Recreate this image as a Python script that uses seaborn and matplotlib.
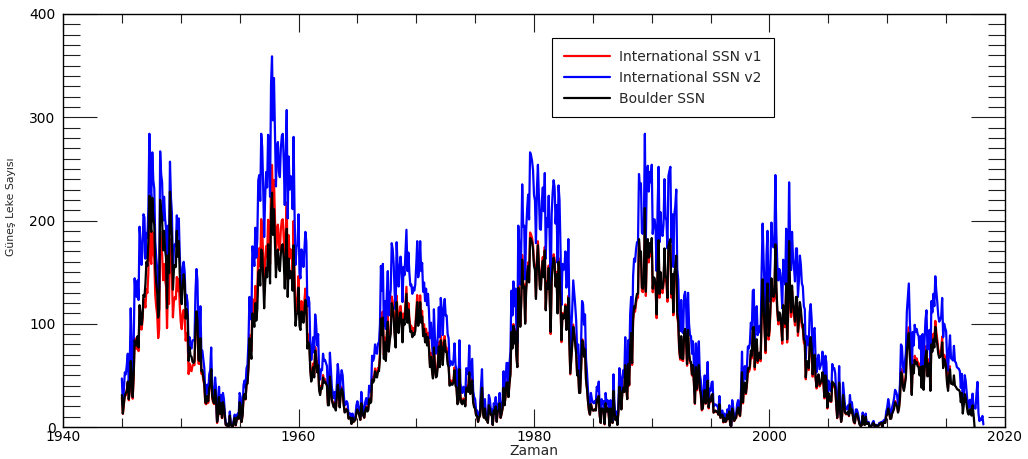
import numpy as np
import pandas as pd
import matplotlib
matplotlib.use("Agg")
import matplotlib.pyplot as plt
from matplotlib.ticker import MultipleLocator
import seaborn as sns

# Monthly sunspot numbers, one row per year, all series starting January 1945
start_year = 1945

labels = ["International SSN v1", "International SSN v2", "Boulder SSN"]
colors = ["#ff0000", "#0000ff", "#000000"]

ssn_v1 = [
    [28.0, 12.7, 21.5, 32.0, 30.6, 36.2, 42.6, 25.9, 34.9, 68.8, 46.0, 27.4],  # 1945
    [47.6, 86.2, 76.6, 75.7, 84.9, 73.5, 116.2, 107.2, 94.4, 102.3, 123.8, 121.7],
    [115.7, 133.4, 129.8, 149.8, 201.3, 163.9, 157.9, 188.8, 169.4, 163.6, 128.0, 116.5],
    [108.5, 86.1, 94.8, 189.7, 174.0, 167.8, 142.2, 157.9, 143.3, 136.3, 95.8, 138.0],
    [119.1, 182.3, 157.5, 147.0, 106.2, 121.7, 125.8, 123.8, 145.3, 131.6, 143.5, 117.6],
    [101.6, 94.8, 109.7, 113.4, 106.2, 83.6, 91.0, 85.2, 51.3, 61.4, 54.8, 54.1],  # 1950
    [59.9, 59.9, 59.9, 92.9, 108.5, 100.6, 61.5, 61.0, 83.1, 51.6, 52.4, 45.8],
    [40.7, 22.7, 22.0, 29.1, 23.4, 36.4, 39.3, 54.9, 28.2, 23.8, 22.1, 34.3],
    [26.5, 3.9, 10.0, 27.8, 12.5, 21.8, 8.6, 23.5, 19.3, 8.2, 1.6, 2.5],
    [0.2, 0.5, 10.9, 1.8, 0.8, 0.2, 4.8, 8.4, 1.5, 7.0, 9.2, 7.6],
    [23.1, 20.8, 4.9, 11.3, 28.9, 31.7, 26.7, 40.7, 42.7, 58.5, 89.2, 76.9],  # 1955
    [73.6, 124.0, 118.4, 110.7, 136.6, 116.6, 129.1, 169.6, 173.2, 155.3, 201.3, 192.1],
    [165.0, 130.2, 157.4, 175.2, 164.6, 200.7, 187.2, 158.0, 235.8, 253.8, 210.9, 239.4],
    [202.5, 164.9, 190.7, 196.0, 175.3, 171.5, 191.4, 200.2, 201.2, 181.5, 152.3, 187.6],
    [217.4, 143.1, 185.7, 163.3, 172.0, 168.7, 149.6, 199.6, 145.2, 111.4, 124.0, 125.0],
    [146.3, 106.0, 102.2, 122.0, 119.6, 110.2, 121.7, 134.1, 127.2, 82.8, 89.6, 85.6],  # 1960
    [57.9, 46.1, 53.0, 61.4, 51.0, 77.4, 70.2, 55.8, 63.6, 37.7, 32.6, 39.9],
    [38.7, 50.3, 45.6, 46.4, 43.7, 42.0, 21.8, 21.8, 51.3, 39.5, 26.9, 23.2],
    [19.8, 24.4, 17.1, 29.3, 43.0, 35.9, 19.6, 33.2, 38.8, 35.3, 23.4, 14.9],
    [15.3, 17.7, 16.5, 8.6, 9.5, 9.1, 3.1, 9.3, 4.7, 6.1, 7.4, 15.1],
    [17.5, 14.2, 11.7, 6.8, 24.1, 15.9, 11.9, 8.9, 16.8, 20.1, 15.8, 17.0],  # 1965
    [28.2, 24.4, 25.3, 48.7, 45.3, 47.7, 56.7, 51.2, 50.2, 57.2, 57.2, 70.4],
    [110.9, 93.6, 111.8, 69.5, 86.5, 67.3, 91.5, 107.2, 76.8, 88.2, 94.3, 126.4],
    [121.8, 111.9, 92.2, 81.2, 127.2, 110.3, 96.1, 109.3, 117.2, 107.7, 86.0, 109.8],
    [104.4, 120.5, 135.8, 106.8, 120.0, 106.0, 96.8, 98.0, 91.3, 95.7, 93.5, 97.9],
    [111.5, 127.8, 102.9, 109.5, 127.5, 106.8, 112.5, 93.0, 99.5, 86.6, 95.2, 83.5],  # 1970
    [91.3, 79.0, 60.7, 71.8, 57.5, 49.8, 81.0, 61.4, 50.2, 51.7, 63.2, 82.2],
    [61.5, 88.4, 80.1, 63.2, 80.5, 88.0, 76.5, 76.8, 64.0, 61.3, 41.6, 45.3],
    [43.4, 42.9, 46.0, 57.7, 42.4, 39.5, 23.1, 25.6, 59.3, 30.7, 23.9, 23.3],
    [27.6, 26.0, 21.3, 40.3, 39.5, 36.0, 55.8, 33.6, 40.2, 47.1, 25.0, 20.5],
    [18.9, 11.5, 11.5, 5.1, 9.0, 11.4, 28.2, 39.7, 13.9, 9.1, 19.4, 7.8],  # 1975
    [8.1, 4.3, 21.9, 18.8, 12.4, 12.2, 1.9, 16.4, 13.5, 20.6, 5.2, 15.3],
    [16.4, 23.1, 8.7, 12.9, 18.6, 38.5, 21.4, 30.1, 44.0, 43.8, 29.1, 43.2],
    [51.9, 93.6, 76.5, 99.7, 82.7, 95.1, 70.4, 58.1, 138.2, 125.1, 97.9, 122.7],
    [166.6, 137.5, 138.0, 101.5, 134.4, 149.5, 159.4, 142.2, 188.4, 186.2, 183.3, 176.3],
    [159.6, 155.0, 126.2, 164.1, 179.9, 157.3, 136.3, 135.4, 155.0, 164.7, 147.9, 174.4],  # 1980
    [114.0, 141.3, 135.5, 156.4, 127.5, 90.0, 143.8, 158.7, 167.3, 162.4, 137.5, 150.1],
    [111.2, 163.6, 153.8, 122.0, 82.2, 110.4, 106.1, 107.6, 118.8, 94.7, 98.1, 127.0],
    [84.3, 51.0, 66.5, 80.7, 99.2, 91.1, 82.2, 71.8, 50.3, 55.8, 33.3, 33.4],
    [57.0, 85.1, 83.5, 69.4, 76.4, 46.1, 37.4, 25.5, 15.7, 12.0, 22.8, 18.7],
    [16.5, 15.9, 17.2, 16.2, 27.5, 24.2, 30.7, 11.1, 3.9, 18.6, 16.2, 17.3],  # 1985
    [2.5, 23.2, 15.1, 18.5, 13.7, 1.1, 18.1, 7.4, 3.8, 35.4, 15.2, 6.8],
    [10.4, 2.4, 14.7, 39.6, 33.0, 17.4, 33.0, 38.7, 33.9, 60.6, 39.9, 27.1],
    [59.0, 40.0, 76.2, 88.0, 60.1, 101.8, 113.8, 111.6, 120.1, 125.1, 125.1, 179.2],
    [161.3, 165.1, 131.4, 130.6, 138.5, 196.2, 126.9, 168.9, 176.7, 159.4, 173.0, 165.5],
    [177.3, 130.5, 140.3, 140.3, 132.2, 105.4, 149.4, 176.0, 125.2, 145.5, 131.4, 129.7],  # 1990
    [136.9, 167.5, 141.9, 140.0, 121.3, 169.7, 173.7, 176.3, 125.3, 144.1, 108.2, 144.4],
    [150.0, 161.1, 106.7, 99.8, 73.8, 65.2, 85.7, 64.5, 63.9, 88.7, 91.8, 82.6],
    [59.3, 91.0, 69.8, 62.2, 61.3, 49.8, 57.9, 42.2, 22.4, 56.4, 35.6, 48.9],
    [57.8, 35.5, 31.7, 16.1, 17.8, 28.0, 35.1, 22.5, 25.7, 44.0, 18.0, 26.2],
    [24.2, 29.9, 31.1, 14.0, 14.5, 15.6, 14.5, 14.3, 11.8, 21.1, 9.0, 10.0],  # 1995
    [11.5, 4.4, 9.2, 4.8, 5.5, 11.8, 8.2, 14.4, 1.6, 0.9, 17.9, 13.3],
    [5.7, 7.6, 8.7, 15.5, 18.5, 12.7, 10.4, 24.4, 51.3, 22.8, 39.0, 41.2],
    [31.9, 40.3, 54.8, 53.4, 56.3, 70.7, 66.6, 92.2, 92.9, 55.5, 74.0, 81.9],
    [62.0, 66.3, 68.8, 63.7, 106.4, 137.7, 113.5, 93.7, 71.5, 116.7, 133.2, 84.6],
    [90.1, 112.9, 138.5, 125.5, 121.6, 124.9, 170.1, 130.5, 109.7, 99.4, 106.8, 104.4],  # 2000
    [95.6, 80.6, 113.5, 107.7, 96.6, 134.0, 81.8, 106.4, 150.7, 125.5, 106.5, 132.2],
    [114.1, 107.4, 98.4, 120.7, 120.8, 88.3, 99.6, 116.4, 109.6, 97.5, 95.0, 81.6],
    [79.5, 46.2, 61.5, 60.0, 55.2, 77.4, 83.3, 72.7, 48.7, 65.5, 67.3, 46.5],
    [37.3, 45.8, 49.1, 39.3, 41.5, 43.2, 51.1, 40.9, 27.7, 48.0, 43.5, 17.9],
    [31.3, 29.2, 24.5, 24.4, 42.7, 39.3, 40.1, 36.4, 22.1, 8.5, 18.0, 41.2],  # 2005
    [15.3, 4.9, 10.6, 30.2, 22.3, 13.9, 12.2, 12.9, 14.4, 10.5, 21.4, 13.6],
    [16.8, 10.7, 4.5, 3.4, 11.7, 12.1, 9.7, 6.0, 2.4, 0.9, 1.7, 10.1],
    [3.3, 2.1, 9.3, 2.9, 3.2, 3.4, 0.5, 0.5, 1.1, 2.9, 4.1, 0.8],
    [1.5, 1.4, 0.7, 1.2, 2.9, 2.6, 3.5, 0.0, 4.3, 4.8, 4.1, 10.8],
    [13.2, 18.8, 15.4, 8.0, 8.7, 13.6, 16.1, 19.6, 25.2, 23.5, 21.6, 14.5],  # 2010
    [19.0, 29.4, 56.2, 54.4, 41.6, 37.0, 43.9, 50.6, 78.0, 88.0, 96.7, 73.0],
    [58.3, 33.1, 64.2, 55.2, 69.0, 64.5, 66.5, 63.0, 61.4, 53.3, 61.8, 40.8],
    [62.9, 38.1, 57.9, 72.4, 78.7, 52.5, 57.0, 66.0, 37.0, 85.6, 77.6, 90.3],
    [82.0, 102.8, 92.2, 84.7, 75.2, 71.0, 72.4, 74.6, 87.6, 60.6, 70.0, 67.3],
    [62.0, 44.0, 38.0, 54.4, 58.8],  # 2015
]

ssn_v2 = [
    [47, 21, 36, 53, 51, 60, 71, 43, 58, 115, 77, 46],  # 1945
    [79, 144, 128, 126, 142, 123, 194, 179, 157, 171, 206, 203],
    [163, 188, 183, 211, 284, 231, 223, 266, 239, 231, 180, 164],
    [153, 121, 134, 267, 245, 237, 200, 223, 202, 192, 135, 195],
    [168, 257, 222, 207, 150, 172, 177, 175, 205, 186, 202, 166],
    [143, 134, 155, 160, 150, 118, 128, 120, 72, 87, 77, 76],  # 1950
    [84, 84, 84, 131, 153, 142, 87, 86, 117, 73, 74, 65],
    [57, 32, 31, 41, 33, 51, 55, 77, 40, 34, 31, 48],
    [37, 5.5, 14, 39, 18, 31, 12, 33, 27, 12, 2.3, 3.5],
    [0.3, 0.7, 15, 2.5, 1.1, 0.3, 6.8, 12, 2.1, 10, 13, 11],
    [33, 29, 7, 16, 41, 45, 38, 57, 60, 82, 126, 108],  # 1955
    [104, 175, 167, 156, 193, 164, 182, 239, 244, 219, 284, 271],
    [233, 184, 222, 247, 232, 283, 264, 223, 332, 359, 297, 338],
    [286, 233, 269, 276, 247, 242, 270, 282, 284, 256, 215, 265],
    [307, 202, 262, 230, 243, 238, 211, 281, 205, 157, 175, 176],
    [206, 149, 144, 172, 169, 155, 172, 189, 179, 117, 126, 121],  # 1960
    [82, 65, 75, 87, 72, 109, 99, 79, 90, 53, 46, 56],
    [55, 71, 64, 65, 62, 59, 31, 31, 72, 56, 38, 33],
    [28, 34, 24, 41, 61, 51, 28, 47, 55, 50, 33, 21],
    [22, 25, 23, 12, 13, 13, 4.4, 13, 6.6, 8.6, 10, 21],
    [25, 20, 16, 9.6, 34, 22, 17, 13, 24, 28, 22, 24],  # 1965
    [40, 34, 36, 69, 64, 67, 80, 72, 71, 81, 81, 99],
    [156, 132, 158, 98, 122, 95, 129, 151, 108, 124, 133, 178],
    [172, 158, 130, 114, 179, 156, 136, 154, 165, 152, 121, 155],
    [147, 170, 191, 151, 169, 149, 137, 138, 129, 135, 132, 138],
    [157, 180, 145, 154, 180, 151, 159, 131, 140, 122, 134, 118],  # 1970
    [129, 111, 86, 101, 81, 70, 114, 87, 71, 73, 89, 116],
    [87, 125, 113, 89, 114, 124, 108, 108, 90, 86, 59, 64],
    [61, 60, 65, 81, 60, 56, 33, 36, 84, 43, 34, 33],
    [39, 37, 30, 57, 56, 51, 79, 47, 57, 66, 35, 29],
    [27, 16, 16, 7.2, 13, 16, 40, 56, 20, 13, 27, 11],  # 1975
    [11, 6.1, 31, 27, 17, 17, 2.7, 23, 19, 29, 7.3, 22],
    [23, 33, 12, 18, 26, 54, 30, 42, 62, 62, 41, 61],
    [73, 132, 108, 141, 117, 134, 99, 82, 195, 176, 138, 173],
    [235, 194, 195, 143, 190, 211, 225, 201, 266, 263, 258, 249],
    [225, 219, 178, 231, 254, 222, 192, 191, 219, 232, 209, 246],  # 1980
    [163, 202, 194, 224, 182, 129, 206, 227, 239, 232, 197, 215],
    [159, 234, 220, 174, 118, 158, 152, 154, 170, 135, 140, 182],
    [121, 73, 95, 115, 142, 130, 118, 103, 72, 80, 48, 48],
    [82, 122, 119, 99, 109, 66, 53, 36, 22, 17, 33, 27],
    [24, 23, 25, 23, 39, 35, 44, 16, 5.6, 27, 23, 25],  # 1985
    [3.6, 33, 22, 26, 20, 1.6, 26, 11, 5.4, 51, 22, 10],
    [15, 3.4, 21, 57, 47, 25, 47, 55, 48, 87, 57, 39],
    [84, 57, 109, 126, 86, 146, 163, 160, 172, 179, 179, 245],
    [231, 236, 188, 187, 198, 284, 181, 242, 253, 228, 247, 237],
    [254, 187, 201, 201, 189, 151, 214, 252, 179, 208, 188, 185],  # 1990
    [196, 240, 203, 200, 173, 243, 248, 252, 179, 206, 155, 206],
    [214, 230, 153, 143, 106, 93, 123, 92, 91, 127, 131, 118],
    [85, 130, 100, 89, 88, 71, 83, 60, 32, 81, 51, 70],
    [83, 51, 45, 23, 25, 40, 50, 32, 37, 63, 26, 37],
    [35, 43, 44, 20, 21, 22, 21, 20, 17, 30, 13, 14],  # 1995
    [16, 6.3, 13, 6.9, 7.9, 17, 12, 21, 2.3, 1.3, 26, 19],
    [8.2, 11, 12, 22, 26, 18, 15, 35, 73, 33, 56, 59],
    [46, 58, 78, 76, 81, 101, 95, 132, 133, 79, 106, 117],
    [89, 95, 98, 91, 152, 197, 162, 134, 102, 167, 190, 121],
    [129, 161, 198, 179, 174, 179, 244, 187, 157, 142, 153, 149],  # 2000
    [137, 115, 162, 154, 138, 192, 117, 152, 237, 180, 152, 189],
    [163, 154, 141, 173, 173, 126, 142, 166, 157, 139, 136, 117],
    [114, 66, 88, 86, 79, 111, 119, 104, 70, 94, 96, 66],
    [53, 65, 70, 56, 59, 62, 73, 58, 40, 69, 62, 26],
    [45, 42, 35, 35, 61, 56, 57, 52, 32, 12, 26, 59],  # 2005
    [22, 7, 15, 43, 32, 20, 17, 18, 21, 15, 31, 19],
    [24, 15, 6.4, 4.9, 17, 17, 14, 8.6, 3.4, 1.3, 2.4, 14],
    [4.7, 3, 13, 4.1, 4.6, 4.9, 0.7, 0.7, 1.6, 4.1, 5.9, 1.1],
    [2.1, 2, 1, 1.7, 4.1, 3.7, 5, 0, 6.1, 6.9, 5.9, 15],
    [19, 27, 22, 11, 12, 19, 23, 28, 36, 34, 31, 21],  # 2010
    [27, 42, 80, 78, 59, 53, 63, 72, 112, 126, 139, 104],
    [83, 47, 92, 79, 99, 92, 95, 90, 88, 76, 88, 58],
    [90, 54, 83, 104, 113, 75, 82, 94, 53, 122, 111, 129],
    [117, 146, 132, 121, 108, 102, 104, 107, 125, 87, 100, 96],
    [93.0, 66.7, 54.5, 75.3, 88.8, 66.5, 65.8, 64.4, 78.6, 63.6, 62.2, 58.0],  # 2015
    [57.0, 56.4, 54.1, 37.9, 51.5, 20.5, 32.4, 50.2, 44.6, 33.4, 21.4, 18.5],
    [26.1, 26.4, 17.7, 32.3, 18.9, 19.2, 17.8, 32.6, 43.7, 13.2, 5.7, 8.2],
    [6.8, 10.7, 2.5],  # 2018
]

ssn_boulder = [
    [31, 13, 23, 30, 33, 35, 44, 27, 36, 64, 48, 29],  # 1945
    [50, 84, 80, 79, 88, 77, 118, 110, 99, 106, 128, 126],
    [139, 160, 156, 180, 224, 197, 189, 222, 203, 196, 154, 140],
    [130, 106, 114, 220, 209, 201, 171, 190, 172, 164, 115, 166],
    [149, 228, 197, 184, 133, 152, 157, 155, 190, 165, 180, 147],
    [127, 119, 137, 148, 140, 105, 114, 107, 64, 77, 69, 68],  # 1950
    [63, 62, 64, 96, 112, 104, 65, 64, 86, 54, 55, 48],
    [42, 24, 23, 30, 25, 38, 41, 56, 30, 25, 23, 36],
    [28, 5, 11, 29, 13, 23, 9, 24, 20, 9, 2, 3],
    [0, 1, 11, 2, 1, 0, 5, 9, 2, 7, 10, 8],
    [24, 21, 5, 12, 29, 32, 27, 41, 42, 57, 86, 75],  # 1955
    [66, 110, 104, 97, 120, 103, 114, 150, 152, 137, 172, 169],
    [145, 115, 139, 154, 145, 177, 165, 139, 207, 227, 186, 211],
    [178, 145, 168, 172, 154, 151, 168, 176, 177, 160, 134, 165],
    [192, 126, 163, 144, 151, 148, 132, 176, 128, 98, 109, 110],
    [135, 98, 94, 112, 110, 101, 112, 123, 117, 76, 82, 79],  # 1960
    [55, 44, 50, 58, 48, 74, 67, 53, 60, 36, 31, 38],
    [37, 48, 43, 44, 42, 40, 21, 21, 49, 38, 26, 22],
    [19, 23, 16, 28, 41, 34, 19, 32, 37, 34, 22, 14],
    [15, 17, 16, 8, 9, 9, 3, 9, 5, 6, 7, 14],
    [17, 14, 11, 7, 23, 15, 11, 9, 16, 19, 15, 16],  # 1965
    [27, 23, 24, 46, 43, 45, 54, 49, 48, 54, 54, 67],
    [105, 89, 106, 66, 82, 64, 87, 102, 73, 84, 90, 120],
    [116, 106, 88, 77, 121, 105, 91, 104, 111, 102, 82, 104],
    [99, 114, 129, 101, 114, 101, 92, 93, 87, 91, 89, 93],
    [106, 121, 98, 104, 121, 101, 107, 88, 95, 82, 90, 79],  # 1970
    [87, 75, 58, 68, 55, 47, 77, 58, 48, 49, 60, 78],
    [58, 84, 76, 60, 76, 84, 73, 73, 61, 58, 40, 43],
    [41, 41, 44, 55, 40, 38, 22, 24, 56, 29, 23, 22],
    [26, 25, 20, 38, 38, 34, 53, 32, 38, 45, 24, 19],
    [18, 11, 11, 5, 9, 11, 27, 38, 13, 9, 18, 7],  # 1975
    [8, 4, 21, 18, 12, 12, 2, 16, 13, 20, 5, 15],
    [16, 23, 9, 13, 18, 38, 21, 30, 43, 43, 29, 42],
    [51, 92, 76, 98, 81, 93, 70, 58, 135, 123, 97, 120],
    [162, 135, 136, 100, 132, 146, 156, 140, 183, 182, 179, 172],
    [156, 152, 124, 160, 176, 154, 134, 133, 152, 161, 145, 171],  # 1980
    [113, 139, 134, 154, 126, 92, 141, 156, 164, 159, 136, 148],
    [110, 160, 151, 120, 84, 109, 105, 106, 117, 94, 97, 125],
    [83, 52, 66, 80, 97, 90, 81, 71, 50, 55, 33, 33],
    [56, 84, 82, 68, 75, 46, 37, 25, 16, 12, 22, 18],
    [16, 16, 17, 16, 27, 24, 30, 11, 4, 18, 16, 17],  # 1985
    [3, 23, 15, 18, 14, 1, 18, 7, 4, 35, 15, 7],
    [10, 2, 15, 39, 33, 17, 33, 38, 34, 60, 40, 27],
    [61, 41, 78, 91, 62, 105, 117, 115, 124, 129, 129, 182],
    [166, 170, 135, 134, 142, 212, 131, 174, 182, 164, 178, 170],
    [183, 134, 145, 144, 136, 109, 154, 181, 129, 150, 135, 134],  # 1990
    [141, 173, 146, 144, 125, 175, 179, 182, 129, 148, 111, 149],
    [155, 166, 110, 103, 76, 67, 88, 66, 66, 91, 95, 85],
    [61, 94, 72, 64, 63, 51, 60, 43, 23, 58, 37, 50],
    [60, 37, 33, 17, 18, 29, 36, 23, 26, 45, 19, 27],
    [25, 31, 32, 14, 15, 16, 15, 15, 12, 22, 9, 10],  # 1995
    [12, 5, 9, 5, 6, 12, 8, 15, 2, 1, 18, 14],
    [6, 8, 9, 16, 19, 13, 11, 25, 53, 24, 41, 43],
    [33, 42, 57, 56, 59, 74, 69, 96, 97, 58, 77, 85],
    [64, 69, 72, 66, 111, 143, 118, 97, 74, 121, 139, 88],
    [94, 117, 144, 131, 126, 130, 177, 136, 114, 103, 111, 109],  # 2000
    [99, 84, 118, 112, 100, 139, 85, 111, 180, 131, 111, 137],
    [119, 112, 102, 126, 126, 92, 104, 121, 114, 101, 99, 85],
    [83, 48, 64, 62, 57, 80, 87, 76, 51, 68, 70, 48],
    [39, 48, 51, 41, 43, 45, 53, 43, 29, 50, 45, 19],
    [33, 30, 25, 25, 44, 41, 42, 38, 23, 9, 19, 43],  # 2005
    [16, 5, 11, 31, 23, 14, 13, 13, 15, 11, 22, 14],
    [17, 11, 5, 4, 12, 13, 10, 6, 2, 1, 2, 11],
    [3, 2, 10, 3, 3, 4, 0, 0, 1, 3, 4, 1],
    [2, 1, 1, 1, 3, 3, 4, 0, 4, 5, 4, 11],
    [12, 18, 14, 8, 8, 13, 15, 18, 24, 22, 20, 14],  # 2010
    [18, 28, 53, 51, 39, 35, 41, 48, 73, 83, 91, 69],
    [55, 31, 60, 52, 65, 61, 63, 59, 58, 50, 58, 38],
    [59, 36, 54, 68, 74, 49, 54, 62, 35, 80, 73, 85],
    [77, 97, 87, 80, 71, 67, 68, 70, 82, 57, 66, 63],
    [58, 42, 35, 49, 56, 42, 42, 41, 50, 40, 39, 37],  # 2015
    [36, 36, 34, 24, 33, 13, 21, 32, 28, 21, 14, 12],
    [17, 17, 11, 21, 12, 0],  # 2017
]


def monthly_frame(rows, name):
    values = np.concatenate([np.asarray(r, dtype=float) for r in rows])
    years = start_year + np.arange(len(values)) / 12.0
    return pd.DataFrame({"Zaman": years, "SSN": values, "Seri": name})


frames = [monthly_frame(rows, name)
          for rows, name in zip([ssn_v1, ssn_v2, ssn_boulder], labels)]

sns.set_style("ticks")
plt.rcParams["font.family"] = ["DejaVu Sans"]

fig = plt.figure(figsize=(10.28, 4.59), dpi=100)
ax = fig.add_axes([0.0613, 0.0697, 0.9163, 0.8998])

for df, name, col in zip(frames, labels, colors):
    sns.lineplot(data=df, x="Zaman", y="SSN", color=col, linewidth=1.6,
                 label=name, ax=ax, estimator=None, sort=False)

ax.set_xlim(1940, 2020)
ax.set_ylim(0, 400)
ax.xaxis.set_major_locator(MultipleLocator(20))
ax.xaxis.set_minor_locator(MultipleLocator(5))
ax.yaxis.set_major_locator(MultipleLocator(100))
ax.yaxis.set_minor_locator(MultipleLocator(10))

ax.tick_params(which="both", direction="in", top=True, right=True,
               color="#202020", width=0.8, labelsize=10, labelcolor="black")
ax.tick_params(axis="x", which="major", length=13, pad=2.5)
ax.tick_params(axis="x", which="minor", length=6.5)
ax.tick_params(axis="y", which="major", length=24.5, pad=5.5)
ax.tick_params(axis="y", which="minor", length=12.2)

for sp in ax.spines.values():
    sp.set_color("black")
    sp.set_linewidth(1.0)

ax.set_xlabel("Zaman", fontsize=10, labelpad=0)
ax.set_ylabel("Güneş Leke Sayısı", fontsize=7.8)
ax.yaxis.set_label_coords(-0.0504, 0.533)

leg = ax.legend(loc="upper left", bbox_to_anchor=(0.519, 0.942),
                borderaxespad=0, fontsize=10, frameon=True, fancybox=False,
                handlelength=3.3, handletextpad=0.7, labelspacing=0.5,
                borderpad=0.85)
leg.get_frame().set_edgecolor("black")
leg.get_frame().set_linewidth(0.8)
leg.get_frame().set_alpha(1)
for line in leg.get_lines():
    line.set_linewidth(1.6)

fig.savefig("out.png", dpi=100)
